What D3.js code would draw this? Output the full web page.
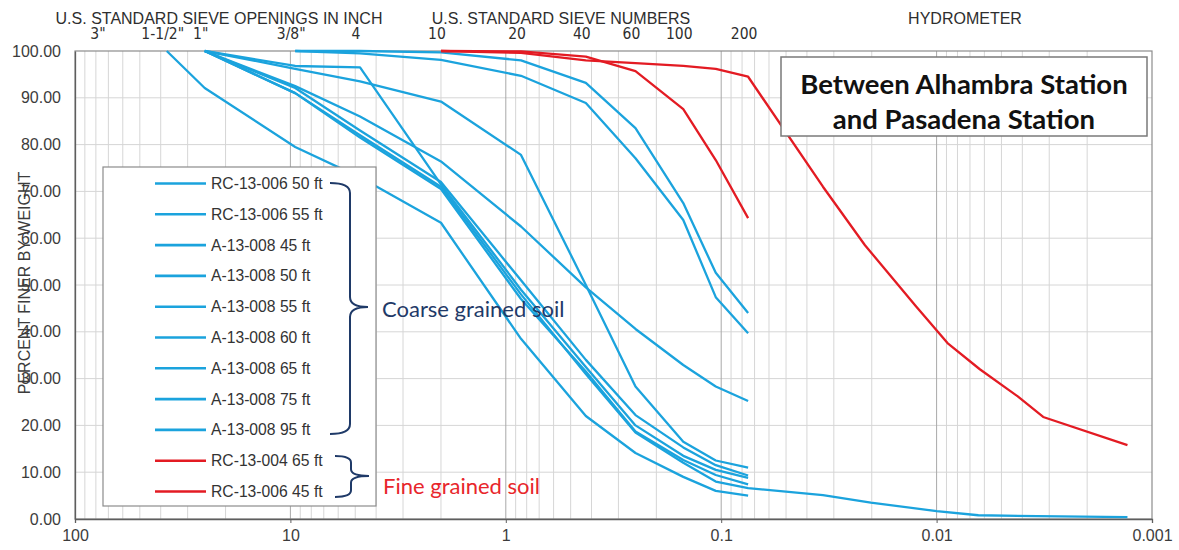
<!DOCTYPE html>
<html>
<head>
<meta charset="utf-8">
<script src="https://cdn.jsdelivr.net/npm/d3@7"></script>
<style>
  body { margin: 0; background: #fff; }
  svg { display: block; }
</style>
</head>
<body>
<svg id="chart" width="1179" height="550"></svg>
<script>
// ---- Grain size distribution data -------------------------------------
// Sieve openings (mm) used in the mechanical analysis
const sieveSizes = [37.5, 25, 9.5, 4.75, 2.0, 0.85, 0.425, 0.25, 0.15, 0.106, 0.075];

// Percent passing by weight at each sieve (null = not tested / above top size)
const rc006_50ft = [null, 100, 91.0, 82.0, 71.0, 48.0, 31.0, 18.5, 12.0, 8.0, 6.6];
const rc006_55ft = [null, null, 100, 100, 99.7, 98.0, 93.2, 83.5, 67.5, 52.6, 44.0];
const a008_45ft  = [null, null, 100, 99.5, 98.1, 94.7, 88.9, 77.1, 63.9, 47.4, 39.7];
const a008_50ft  = [null, 100, 96.2, 93.5, 89.2, 77.8, 50.0, 28.3, 16.5, 12.5, 11.0];
const a008_55ft  = [null, 100, 92.5, 86.0, 76.4, 62.5, 49.5, 40.6, 32.9, 28.3, 25.2];
const a008_60ft  = [100, 92.1, 79.5, 73.0, 63.3, 38.5, 22.0, 14.1, 9.0, 6.0, 5.0];
const a008_65ft  = [null, 100, 92.1, 83.0, 72.0, 51.0, 34.0, 22.2, 15.3, 11.5, 9.3];
const a008_75ft  = [null, 100, 96.8, 96.5, 71.5, 49.0, 32.5, 20.0, 13.5, 10.5, 8.8];
const a008_95ft  = [null, 100, 91.0, 81.5, 70.5, 47.0, 31.5, 18.7, 12.6, 9.4, 7.4];
const rc004_65ft = [null, null, null, null, 100, 99.9, 98.8, 95.7, 87.6, 76.7, 64.3];
const rc006_45ft = [null, null, null, null, 100, 99.6, 98.0, 97.4, 96.8, 96.2, 94.5];

// Hydrometer readings: particle diameter (mm) and percent finer
const rc006_50ftHydroSizes = [0.0337, 0.0202, 0.0100, 0.0064, 0.0034, 0.0013];
const rc006_50ftHydro      = [5.1, 3.5, 1.7, 0.8, 0.6, 0.4];
const rc006_45ftHydroSizes = [0.0337, 0.0215, 0.0125, 0.0089, 0.0063, 0.0042, 0.0032, 0.0013];
const rc006_45ftHydro      = [71.0, 58.5, 45.5, 37.6, 32.0, 26.2, 21.8, 15.8];

const seriesNames = [
  "RC-13-006 50 ft", "RC-13-006 55 ft", "A-13-008 45 ft", "A-13-008 50 ft",
  "A-13-008 55 ft", "A-13-008 60 ft", "A-13-008 65 ft", "A-13-008 75 ft",
  "A-13-008 95 ft", "RC-13-004 65 ft", "RC-13-006 45 ft"
];
const seriesSieve = [rc006_50ft, rc006_55ft, a008_45ft, a008_50ft, a008_55ft, a008_60ft,
                     a008_65ft, a008_75ft, a008_95ft, rc004_65ft, rc006_45ft];
const seriesHydroSizes = [rc006_50ftHydroSizes, null, null, null, null, null, null, null, null, null, rc006_45ftHydroSizes];
const seriesHydro      = [rc006_50ftHydro, null, null, null, null, null, null, null, null, null, rc006_45ftHydro];
const seriesGroup = ["coarse", "coarse", "coarse", "coarse", "coarse", "coarse", "coarse", "coarse", "coarse", "fine", "fine"];

// Axis ticks and header labels
const xTickValues = [100, 10, 1, 0.1, 0.01, 0.001];
const yTickValues = [0, 10, 20, 30, 40, 50, 60, 70, 80, 90, 100];
const sieveLabels = ['3"', '1-1/2"', '1"', '3/8"', '4', '10', '20', '40', '60', '100', '200'];
const sieveLabelSizes = [75, 37.5, 25, 9.5, 4.75, 2.0, 0.85, 0.425, 0.25, 0.15, 0.075];
const headerLabels = ["U.S. STANDARD SIEVE OPENINGS IN INCH", "U.S. STANDARD SIEVE NUMBERS", "HYDROMETER"];
const titleLines = ["Between Alhambra Station", "and Pasadena Station"];
const groupLabels = ["Coarse grained soil", "Fine grained soil"];

// ---- Layout --------------------------------------------------------------
const svg = d3.select("#chart");
const plotL = 75, plotR = 1152, plotT = 51, plotB = 519;
const colors = { coarse: "#1ba3dd", fine: "#e31b23" };
const navy = "#1f3a68";

const x = d3.scaleLog().domain([100, 0.001]).range([plotL, plotR]);
const y = d3.scaleLinear().domain([0, 100]).range([plotB, plotT]);

// Grid: minor log lines, decade lines, horizontal lines
const minorVals = [];
for (let k = -3; k <= 1; k++) {
  for (let m = 2; m <= 9; m++) minorVals.push(m * Math.pow(10, k));
}
const grid = svg.append("g");
grid.selectAll("line.minor").data(minorVals).join("line")
  .attr("x1", d => x(d)).attr("x2", d => x(d))
  .attr("y1", plotT).attr("y2", plotB)
  .attr("stroke", "#d6d6d6").attr("stroke-width", 1);
grid.selectAll("line.h").data(yTickValues.slice(1, -1)).join("line")
  .attr("x1", plotL).attr("x2", plotR)
  .attr("y1", d => y(d)).attr("y2", d => y(d))
  .attr("stroke", "#d6d6d6").attr("stroke-width", 1);
grid.selectAll("line.major").data(xTickValues.slice(1, -1)).join("line")
  .attr("x1", d => x(d)).attr("x2", d => x(d))
  .attr("y1", plotT).attr("y2", plotB)
  .attr("stroke", "#a9a9a9").attr("stroke-width", 1);

// Plot frame
svg.append("rect")
  .attr("x", plotL).attr("y", plotT)
  .attr("width", plotR - plotL).attr("height", plotB - plotT)
  .attr("fill", "none").attr("stroke", "#8c8c8c").attr("stroke-width", 1.2);

// Axes
const xAxis = svg.append("g")
  .attr("transform", `translate(0,${plotB})`)
  .call(d3.axisBottom(x).tickValues(xTickValues).tickFormat(d3.format("~g")).tickSize(4).tickPadding(7));
const yAxis = svg.append("g")
  .attr("transform", `translate(${plotL},0)`)
  .call(d3.axisLeft(y).tickValues(yTickValues).tickFormat(d3.format(".2f")).tickSize(0).tickPadding(14));
[xAxis, yAxis].forEach(g => {
  g.select(".domain").attr("stroke", "#5e5e5e").attr("stroke-width", 1.3);
  g.selectAll(".tick line").attr("stroke", "#5e5e5e");
  g.selectAll("text").attr("fill", "#3c3c3c")
    .style("font-family", "'Liberation Sans', Arial, sans-serif").style("font-size", "16px");
});

// Y-axis title
svg.append("text")
  .attr("transform", "translate(30,283) rotate(-90)")
  .attr("text-anchor", "middle")
  .attr("fill", "#3c3c3c")
  .style("font-family", "'Liberation Sans', Arial, sans-serif").style("font-size", "16px")
  .text("PERCENT FINER BY WEIGHT");

// Header labels
const headerX = [219, 561, 965];
svg.selectAll("text.header").data(headerLabels).join("text")
  .attr("x", (d, i) => headerX[i]).attr("y", 24)
  .attr("text-anchor", "middle").attr("fill", "#2e2e2e")
  .style("font-family", "'Liberation Sans', Arial, sans-serif").style("font-size", "16px")
  .text(d => d);
svg.selectAll("text.sieve").data(sieveLabels).join("text")
  .attr("x", (d, i) => x(sieveLabelSizes[i]) - 4).attr("y", 39)
  .attr("text-anchor", "middle").attr("fill", "#2e2e2e")
  .style("font-family", "'Liberation Sans Narrow', 'DejaVu Sans Condensed', sans-serif")
  .style("font-size", "15.5px")
  .text(d => d);

// Gradation curves
const line = d3.line()
  .x(d => x(d.size)).y(d => y(d.pct))
  .curve(d3.curveLinear);
const curves = seriesNames.map((name, i) => {
  const pts = sieveSizes.map((s, j) => ({ size: s, pct: seriesSieve[i][j] }))
    .filter(p => p.pct != null);
  if (seriesHydro[i]) {
    seriesHydroSizes[i].forEach((s, j) => pts.push({ size: s, pct: seriesHydro[i][j] }));
  }
  return { name, group: seriesGroup[i], pts };
});
svg.append("g").selectAll("path").data(curves).join("path")
  .attr("d", d => line(d.pts))
  .attr("fill", "none")
  .attr("stroke", d => colors[d.group])
  .attr("stroke-width", 2.3)
  .attr("stroke-linejoin", "round");

// Legend
const legend = svg.append("g");
legend.append("rect")
  .attr("x", 103).attr("y", 167).attr("width", 273).attr("height", 339)
  .attr("fill", "#fff").attr("stroke", "#8c8c8c").attr("stroke-width", 1.2);
const rowY = i => 183.5 + i * 30.8;
const items = legend.selectAll("g.item").data(curves).join("g")
  .attr("transform", (d, i) => `translate(0,${rowY(i)})`);
items.append("line")
  .attr("x1", 155).attr("x2", 206).attr("y1", 0).attr("y2", 0)
  .attr("stroke", d => colors[d.group]).attr("stroke-width", 2.6);
items.append("text")
  .attr("x", 211).attr("y", 5.5)
  .attr("fill", "#333")
  .style("font-family", "'Liberation Sans', Arial, sans-serif").style("font-size", "15.7px")
  .text(d => d.name);

// Group braces
const braces = [
  { label: groupLabels[0], color: navy, x0: 330, spine: 350, tipX: 368, y1: 183, yt: 307, y2: 434, tx: 382, ty: 317 },
  { label: groupLabels[1], color: "#e8262b", x0: 335, spine: 351, tipX: 369, y1: 456, yt: 476, y2: 497, tx: 383, ty: 494 }
];
braces.forEach(b => {
  const r = Math.min(10, (b.yt - b.y1) / 3);
  const p = d3.path();
  p.moveTo(b.x0, b.y1);
  p.quadraticCurveTo(b.spine, b.y1, b.spine, b.y1 + r);
  p.lineTo(b.spine, b.yt - r);
  p.quadraticCurveTo(b.spine, b.yt, b.tipX, b.yt);
  p.quadraticCurveTo(b.spine, b.yt, b.spine, b.yt + r);
  p.lineTo(b.spine, b.y2 - r);
  p.quadraticCurveTo(b.spine, b.y2, b.x0, b.y2);
  svg.append("path").attr("d", p.toString())
    .attr("fill", "none").attr("stroke", navy).attr("stroke-width", 2);
  svg.append("text")
    .attr("x", b.tx).attr("y", b.ty)
    .attr("fill", b.color)
    .style("font-family", "Lato, 'Open Sans', sans-serif").style("font-size", "22px")
    .text(b.label);
});

// Title box
const title = svg.append("g");
title.append("rect")
  .attr("x", 781).attr("y", 57).attr("width", 366).attr("height", 79)
  .attr("fill", "#fff").attr("stroke", "#7a7a7a").attr("stroke-width", 1.5);
title.selectAll("text").data(titleLines).join("text")
  .attr("x", 964).attr("y", (d, i) => 94 + i * 35)
  .attr("text-anchor", "middle").attr("fill", "#111")
  .style("font-family", "Lato, 'Open Sans', sans-serif").style("font-weight", "bold")
  .style("font-size", "27.5px")
  .text(d => d);
</script>
</body>
</html>
